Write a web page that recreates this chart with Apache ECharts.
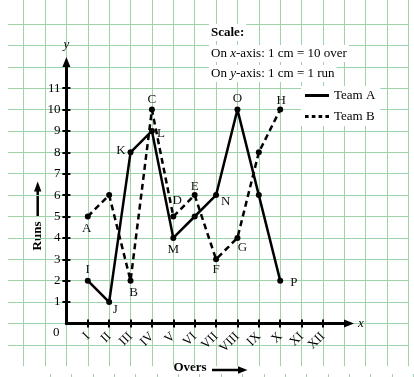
<!DOCTYPE html>
<html>
<head>
<meta charset="utf-8">
<script src="https://cdn.jsdelivr.net/npm/echarts@6/dist/echarts.min.js"></script>
<style>
  html, body { margin: 0; padding: 0; background: #fff; }
  #chart { width: 414px; height: 377px; }
</style>
</head>
<body>
<div id="chart"></div>
<script>
// overs (x) and runs (y) for the two teams
var overs = [1, 2, 3, 4, 5, 6, 7, 8, 9, 10];
var teamA = [2, 1, 8, 9, 4, 5, 6, 10, 6, 2];
var teamB = [5, 6, 2, 10, 5, 6, 3, 4, 8, 10];
var namesA = ['I', 'J', 'K', 'L', 'M', '', 'N', 'O', '', 'P'];
var namesB = ['A', '', 'B', 'C', 'D', 'E', 'F', 'G', '', 'H'];
var xTicks = ['I', 'II', 'III', 'IV', 'V', 'VI', 'VII', 'VIII', 'IX', 'X', 'XI', 'XII'];
var yTicks = [1, 2, 3, 4, 5, 6, 7, 8, 9, 10, 11];

// where each point letter sits (style only)
var placeA = [['top', [0, 0]], ['bottom', [6, -4]], ['left', [0, -2]], ['right', [0, 3]], ['bottom', [0, 0]],
  null, ['right', [0, 6]], ['top', [0, 0]], null, ['right', [5, 2]]];
var placeB = [['bottom', [-1, 1]], null, ['bottom', [3, 0]], ['top', [0, 1]], ['top', [4, -4]],
  ['top', [0, 3]], ['bottom', [0, -1]], ['bottom', [5, -2]], null, ['top', [1, 2]]];

var U = 21.38;      // one grid square
var X0 = 66.4;      // origin x
var Y0 = 323.4;     // origin y
var FONT = 'Liberation Serif';
var GRID_GREEN = '#9cd3aa';

function buildData(xs, ys, names, place) {
  return xs.map(function (x, i) {
    var item = { value: [x, ys[i]], name: names[i] };
    if (place[i]) {
      item.label = { show: true, position: place[i][0], offset: place[i][1] };
    } else {
      item.label = { show: false };
    }
    return item;
  });
}

var chart = echarts.init(document.getElementById('chart'));

var hidden = { show: false };
var scaleRich = {
  n: { fontFamily: FONT, fontSize: 13, color: '#000', fontWeight: 'normal' },
  i: { fontFamily: FONT, fontSize: 13, color: '#000', fontWeight: 'normal', fontStyle: 'italic' }
};

var option = {
  backgroundColor: '#fff',
  animation: false,
  title: [
    {
      text: 'Scale:', left: 209, top: 24, padding: [2, 2],
      backgroundColor: '#fff',
      textStyle: { fontFamily: FONT, fontSize: 13, fontWeight: 'bold', color: '#000' }
    },
    {
      text: '{n|On }{i|x}{n|-axis: 1 cm = 10 over}', left: 209, top: 45, padding: [2, 2],
      backgroundColor: '#fff',
      textStyle: { fontWeight: 'normal', rich: scaleRich }
    },
    {
      text: '{n|On }{i|y}{n|-axis: 1 cm = 1 run}', left: 209, top: 65, padding: [2, 2],
      backgroundColor: '#fff',
      textStyle: { fontWeight: 'normal', rich: scaleRich }
    }
  ],
  legend: {
    orient: 'vertical',
    left: 301, top: 86,
    padding: [3, 5, 3, 4],
    itemGap: 8,
    itemWidth: 24,
    itemHeight: 3,
    backgroundColor: '#fff',
    textStyle: { fontFamily: FONT, fontSize: 13, color: '#000' },
    data: [
      { name: 'Team A', icon: 'path://M0,0H24V3H0Z' },
      { name: 'Team B', icon: 'path://M0,0h3.6v3h-3.6z M6.8,0h3.6v3h-3.6z M13.6,0h3.6v3h-3.6z M20.4,0h3.6v3h-3.6z' }
    ]
  },
  grid: [
    // vertical green lines
    { left: X0 - 2 * U, top: 0, width: 18 * U, height: Y0 + 2 * U },
    // horizontal green lines
    { left: 8, top: Y0 - 14 * U, width: 400, height: 15 * U },
    // axis lines with arrows
    { left: X0, top: 62, width: 349 - X0, height: Y0 - 62 },
    // data + ticks
    { left: X0 + U, top: Y0 - 11 * U, width: 11 * U, height: 10 * U },
    // little green marks along the bottom edge
    { left: 50, top: 372, width: 17 * U, height: 2 }
  ],
  xAxis: [
    {
      gridIndex: 0, type: 'value', min: 0, max: 18, interval: 1,
      axisLine: hidden, axisTick: hidden, axisLabel: hidden,
      splitLine: { show: true, lineStyle: { color: GRID_GREEN, width: 1 } }
    },
    {
      gridIndex: 1, type: 'value', min: 0, max: 1,
      axisLine: hidden, axisTick: hidden, axisLabel: hidden, splitLine: hidden
    },
    {
      gridIndex: 2, type: 'value', min: 0, max: 1,
      name: 'x', nameLocation: 'end', nameGap: 9,
      nameTextStyle: { fontFamily: FONT, fontSize: 13, fontStyle: 'italic', color: '#000', verticalAlign: 'middle' },
      axisLine: { show: true, onZero: false, symbol: ['none', 'triangle'], symbolSize: [8, 10],
        lineStyle: { color: '#000', width: 3 } },
      axisTick: hidden, axisLabel: hidden, splitLine: hidden
    },
    {
      gridIndex: 3, type: 'value', min: 1, max: 12, interval: 1,
      offset: U - 4,
      axisLine: { show: false, onZero: false },
      axisTick: { show: true, length: 8, lineStyle: { color: '#000', width: 2 } },
      axisLabel: {
        rotate: 45, margin: 15, fontFamily: FONT, fontSize: 13, color: '#000',
        formatter: function (v) { return xTicks[v - 1] || ''; }
      },
      splitLine: hidden
    },
    {
      gridIndex: 4, type: 'value', min: 0, max: 17, interval: 1,
      axisLine: { show: false, onZero: false },
      axisTick: { show: true, length: 3, lineStyle: { color: GRID_GREEN, width: 1 } },
      axisLabel: hidden, splitLine: hidden
    }
  ],
  yAxis: [
    {
      gridIndex: 0, type: 'value', min: 0, max: 1,
      axisLine: hidden, axisTick: hidden, axisLabel: hidden, splitLine: hidden
    },
    {
      gridIndex: 1, type: 'value', min: 0, max: 15, interval: 1,
      axisLine: hidden, axisTick: hidden, axisLabel: hidden,
      splitLine: { show: true, lineStyle: { color: GRID_GREEN, width: 1 } }
    },
    {
      gridIndex: 2, type: 'value', min: 0, max: 1,
      name: 'y', nameLocation: 'end', nameGap: 11,
      nameTextStyle: { fontFamily: FONT, fontSize: 13, fontStyle: 'italic', color: '#000', align: 'center' },
      axisLine: { show: true, onZero: false, symbol: ['none', 'triangle'], symbolSize: [8, 10],
        lineStyle: { color: '#000', width: 3 } },
      axisTick: hidden, axisLabel: hidden, splitLine: hidden
    },
    {
      gridIndex: 3, type: 'value', min: 1, max: 11, interval: 1,
      offset: U - 4,
      axisLine: { show: false, onZero: false },
      axisTick: { show: true, length: 8, lineStyle: { color: '#000', width: 2 } },
      axisLabel: {
        margin: 10, fontFamily: FONT, fontSize: 13, color: '#000',
        formatter: function (v) { return yTicks.indexOf(v) >= 0 ? String(v) : ''; }
      },
      splitLine: hidden
    },
    {
      gridIndex: 4, type: 'value', min: 0, max: 1,
      axisLine: hidden, axisTick: hidden, axisLabel: hidden, splitLine: hidden
    }
  ],
  graphic: [
    { type: 'text', left: 53, top: 326, style: { text: '0', font: '13px "Liberation Serif"', fill: '#000' } },
    {
      type: 'text', x: 38, y: 236, rotation: Math.PI / 2,
      style: { text: 'Runs', font: 'bold 13px "Liberation Serif"', fill: '#000', align: 'center', verticalAlign: 'middle' }
    },
    { type: 'line', shape: { x1: 37.7, y1: 216, x2: 37.7, y2: 190 }, style: { stroke: '#000', lineWidth: 2.5 } },
    { type: 'polygon', shape: { points: [[37.7, 181.5], [34, 191.5], [41.4, 191.5]] }, style: { fill: '#000' } },
    {
      type: 'text', x: 190, y: 368,
      style: { text: 'Overs', font: 'bold 13px "Liberation Serif"', fill: '#000', align: 'center', verticalAlign: 'middle' }
    },
    { type: 'line', shape: { x1: 212, y1: 370, x2: 240, y2: 370 }, style: { stroke: '#000', lineWidth: 2.5 } },
    { type: 'polygon', shape: { points: [[247.5, 370], [238, 366.2], [238, 373.8]] }, style: { fill: '#000' } }
  ],
  series: [
    {
      name: 'Team A', type: 'line', xAxisIndex: 3, yAxisIndex: 3,
      data: buildData(overs, teamA, namesA, placeA),
      symbol: 'circle', symbolSize: 6,
      itemStyle: { color: '#000' },
      lineStyle: { color: '#000', width: 2.5 },
      label: {
        distance: 2, fontFamily: FONT, fontSize: 13, color: '#111',
        formatter: function (p) { return p.name; }
      },
      z: 3
    },
    {
      name: 'Team B', type: 'line', xAxisIndex: 3, yAxisIndex: 3,
      data: buildData(overs, teamB, namesB, placeB),
      symbol: 'circle', symbolSize: 6,
      itemStyle: { color: '#000' },
      lineStyle: { color: '#000', width: 2.5, type: [6, 4] },
      label: {
        distance: 2, fontFamily: FONT, fontSize: 13, color: '#111',
        formatter: function (p) { return p.name; }
      },
      z: 3
    }
  ]
};

chart.setOption(option);
</script>
</body>
</html>
